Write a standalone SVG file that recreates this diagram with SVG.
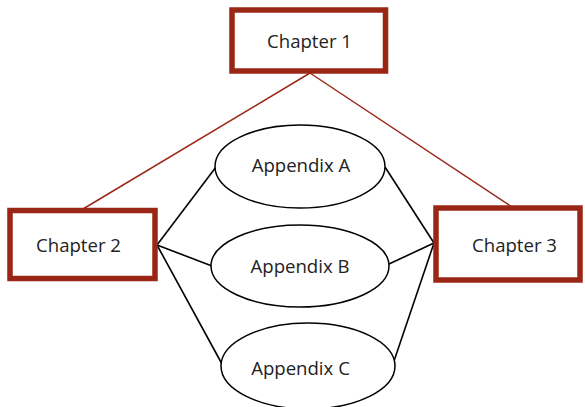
<svg xmlns="http://www.w3.org/2000/svg" width="585" height="407" viewBox="0 0 585 407">
  <style>
    .box { fill: #ffffff; stroke: #9a2716; stroke-width: 5.5; }
    .oval { fill: #ffffff; stroke: #000000; stroke-width: 1.5; }
    .red { stroke: #9a2716; stroke-width: 1.5; fill: none; }
    .blk { stroke: #000000; stroke-width: 1.6; fill: none; }
    .lbl { font-family: "Open Sans", "Liberation Sans", sans-serif; font-size: 18.6px; fill: #222222; text-anchor: middle; }
  </style>
  <rect width="585" height="407" fill="#ffffff"/>
  <g id="connectors">
    <line class="red" x1="310" y1="73" x2="83" y2="209"/>
    <line class="red" x1="310" y1="73" x2="512" y2="207"/>
    <line class="blk" x1="157" y1="245" x2="216" y2="167"/>
    <line class="blk" x1="157" y1="245" x2="212" y2="266"/>
    <line class="blk" x1="157" y1="245" x2="222" y2="364"/>
    <line class="blk" x1="385" y1="167" x2="434" y2="243"/>
    <line class="blk" x1="389" y1="264" x2="434" y2="243"/>
    <line class="blk" x1="394" y1="361" x2="434" y2="243"/>
  </g>
  <g id="chapter1">
    <rect class="box" x="232" y="10" width="153.5" height="61"/>
    <text class="lbl" x="309.5" y="48">Chapter 1</text>
  </g>
  <g id="chapter2">
    <rect class="box" x="10" y="210.5" width="145" height="68"/>
    <text class="lbl" x="78.5" y="252">Chapter 2</text>
  </g>
  <g id="chapter3">
    <rect class="box" x="436" y="208" width="144" height="72"/>
    <text class="lbl" x="514.5" y="252">Chapter 3</text>
  </g>
  <g id="appendixA">
    <ellipse class="oval" cx="300" cy="166.5" rx="85" ry="41.5"/>
    <text class="lbl" x="301" y="172">Appendix A</text>
  </g>
  <g id="appendixB">
    <ellipse class="oval" cx="300" cy="266" rx="89" ry="41"/>
    <text class="lbl" x="300" y="273">Appendix B</text>
  </g>
  <g id="appendixC">
    <ellipse class="oval" cx="308" cy="366" rx="87" ry="43"/>
    <text class="lbl" x="300.5" y="375">Appendix C</text>
  </g>
</svg>
